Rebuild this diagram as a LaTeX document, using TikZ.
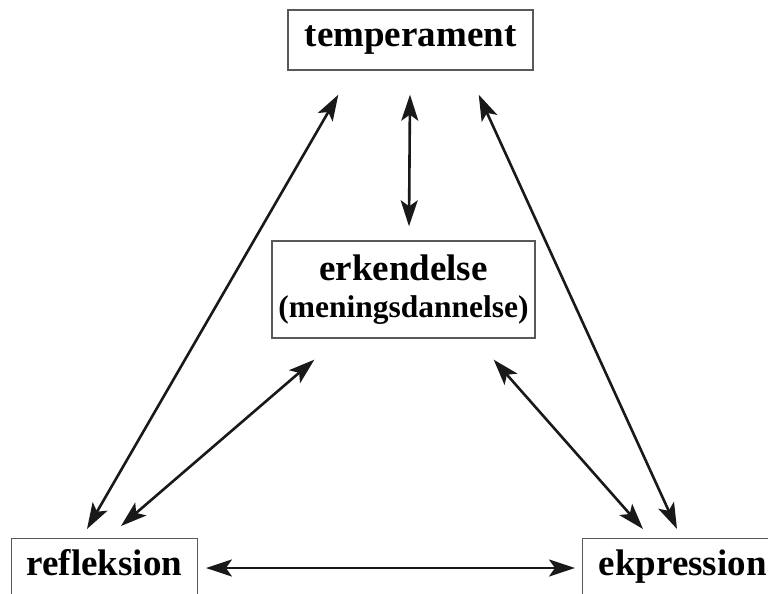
\documentclass[tikz,border=0pt]{standalone}
\usepackage{fontspec}
\setmainfont{Liberation Serif}
\usetikzlibrary{arrows.meta,calc}
\tikzset{
  box/.style={draw=black!65, line width=1.4pt, inner sep=0pt, font=\bfseries\fontsize{37}{40}\selectfont},
  edgebox/.style={box, anchor=north west, inner xsep=15pt, inner ysep=11pt, text depth=34pt},
  biarrow/.style={line width=2.6pt, draw=black!90,
    {Stealth[length=26pt,width=17pt,inset=6pt]}-{Stealth[length=26pt,width=17pt,inset=6pt]}}
}
\begin{document}
\begin{tikzpicture}[x=1pt,y=-1pt]
  \fill[white] (0,0) rectangle (768,594);
  \useasboundingbox (0,0) rectangle (768,594);
  \clip (0,0) rectangle (768,594);

  % the four concepts
  \node[box, minimum width=245pt, minimum height=60pt] (temp) at (410.5,40) {temperament};
  \node[box, minimum width=263pt, minimum height=97pt, align=center] (erk) at (403.5,289.5)
    {erkendelse\\[-3pt]{\fontsize{31.5}{34}\selectfont (meningsdannelse)}};
  \node[edgebox, minimum width=181pt] (refl) at (11,538) {refleksion};
  \node[edgebox, minimum width=200pt] (ekp) at (582,538) {ekpression};

  % two-way relations
  \draw[biarrow] ($(temp.south)+(-0.5,24)$) -- ($(erk.north)+(5.5,-14)$);
  \draw[biarrow] ($(temp.south west)+(51,24)$) -- ($(refl.north west)+(76,-9)$);
  \draw[biarrow] ($(temp.south east)+(-55,24)$) -- ($(ekp.north west)+(95,-9)$);
  \draw[biarrow] ($(erk.south west)+(43,21)$) -- ($(refl.north west)+(110,-12)$);
  \draw[biarrow] ($(erk.south east)+(-42,21)$) -- ($(ekp.north west)+(61,-9)$);
  \draw[biarrow] ($(refl.north east)+(8,30)$) -- ($(ekp.north west)+(-7,30)$);
\end{tikzpicture}
\end{document}
